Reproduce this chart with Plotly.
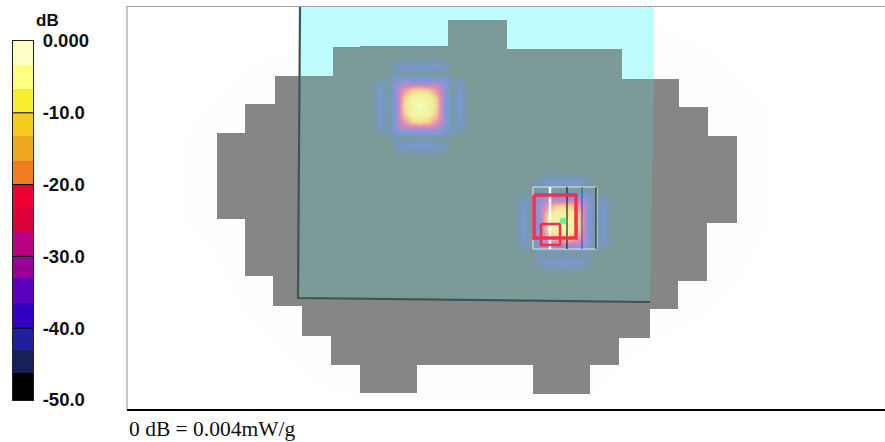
import plotly.graph_objects as go

# Colour legend
band_edges = [-50, -46.3, -43, -40, -36.5, -33, -30, -26.5, -23.3, -20, -16.7, -13.3, -10, -6.7, -3.3, 0]
band_colors = ["#000000", "#182058", "#20209C", "#3400C0", "#5C00BC", "#990099", "#B80080", "#DC0038",
               "#EE0030", "#F07D22", "#F0A522", "#F5CB1F", "#F7EE30", "#FFFF80", "#FFFFC8"]
tick_vals = [0, -10, -20, -30, -40, -50]
tick_text = ["0.000", "-10.0", "-20.0", "-30.0", "-40.0", "-50.0"]

# Phantom outline
sil_x = [217, 245, 245, 275, 275, 333, 333, 448, 448, 507, 507, 622, 622, 679, 679, 708, 708, 737, 737, 707, 707,
         678, 678, 650, 650, 619, 619, 590, 590, 533, 533, 417, 417, 360, 360, 331, 331, 302, 302, 273, 273, 245, 245, 217]
sil_y = [133, 133, 104, 104, 76, 76, 47, 47, 20, 20, 49, 49, 79, 79, 107, 107, 136, 136, 223, 223, 281,
         281, 309, 309, 338, 338, 365, 365, 394, 394, 365, 365, 393, 393, 365, 365, 336, 336, 306, 306, 276, 276, 219, 219]
# Faint halo round the phantom
halo_x = [188, 216, 245, 305, 420, 640, 700, 738, 768, 768, 738, 708, 650, 620, 590, 360, 302, 272, 245, 216, 188]
halo_y = [135, 100, 72, 44, 18, 20, 46, 76, 110, 225, 282, 312, 342, 368, 400, 400, 372, 340, 312, 250, 222]
# Measurement area
area_x = [300, 654, 654, 300]
area_y = [7, 7, 79, 79]
overlap_x = [300, 333, 333, 448, 448, 507, 507, 622, 622, 654, 650, 298]
overlap_y = [76, 76, 47, 47, 20, 20, 49, 49, 79, 79, 302, 298]
edge_x = [300, 298, 650]
edge_y = [7, 298, 302]

# Hot spot level matrix, dB (offset rows/columns around each peak)
spot_offsets = [-56, -48, -40, -32, -24, -16, -8, 0, 8, 16, 24, 32, 40, 48, 56]
spot_db = [
    [-26, -26, -26, -26, -26, -26, -26, -26, -26, -26, -26, -26, -26, -26, -26],
    [-26, -26, -26, -26, -26, -25, -25, -26, -25, -25, -26, -26, -26, -26, -26],
    [-26, -26, -26, -26, -23, -21, -21, -22, -21, -21, -23, -26, -26, -26, -26],
    [-26, -26, -26, -26, -24, -26, -25, -25, -25, -26, -24, -26, -26, -26, -26],
    [-26, -26, -23, -24, -19, -17, -18, -18, -18, -17, -19, -24, -23, -26, -26],
    [-26, -25, -21, -26, -17, -12, -8, -7, -8, -12, -17, -26, -21, -25, -26],
    [-26, -26, -21, -25, -18, -8, -4, -3, -4, -8, -18, -25, -21, -26, -26],
    [-26, -26, -20, -25, -18, -7, -3, 0, -3, -7, -18, -25, -20, -26, -26],
    [-26, -26, -21, -25, -18, -8, -4, -3, -4, -8, -18, -25, -21, -26, -26],
    [-26, -25, -21, -26, -17, -12, -8, -7, -8, -12, -17, -26, -21, -25, -26],
    [-26, -26, -23, -24, -19, -17, -18, -18, -18, -17, -19, -24, -23, -26, -26],
    [-26, -26, -26, -26, -24, -26, -25, -25, -25, -26, -24, -26, -26, -26, -26],
    [-26, -26, -26, -26, -23, -21, -21, -20, -21, -21, -23, -26, -26, -26, -26],
    [-26, -26, -26, -26, -26, -25, -25, -25, -25, -25, -26, -26, -26, -26, -26],
    [-26, -26, -26, -26, -26, -26, -26, -26, -26, -26, -26, -26, -26, -26, -26],
]
spot_centres = [(420, 106), (563, 222)]
spot_scale = [[0, "#7B9A98"], [0.12, "#7699BC"], [0.23, "#7C98D4"], [0.35, "#A090D0"], [0.48, "#D888B8"],
              [0.62, "#F0B098"], [0.78, "#F2EC96"], [1, "#F2FFB8"]]

# Zoom-scan frame markings
frame_x = [533, 597, 597, 533, 533]
frame_y = [187, 187, 249, 249, 187]
red_x = [534, 576, 576, 534, 534]
red_y = [195, 195, 238, 238, 195]
small_x = [541, 560, 560, 541, 541]
small_y = [224, 224, 245, 245, 224]
markers = [(550, "#FFFFFF", 2.5), (567, "#301820", 1.2), (582, "#3A4898", 1), (596, "#101030", 1)]
peak_x, peak_y = [563], [221]

fig = go.Figure()
def poly(xs, ys, color, axes=("x", "y")):
    fig.add_trace(go.Scatter(x=xs, y=ys, fill="toself", fillcolor=color, mode="lines", line=dict(width=0),
                             hoverinfo="skip", showlegend=False, xaxis=axes[0], yaxis=axes[1]))
def line(xs, ys, color, width, axes=("x3", "y3")):
    fig.add_trace(go.Scatter(x=xs, y=ys, mode="lines", line=dict(color=color, width=width),
                             hoverinfo="skip", showlegend=False, xaxis=axes[0], yaxis=axes[1]))

poly(halo_x, halo_y, "#FCFEFE")
poly(area_x, area_y, "#BFFCFD")
poly(sil_x, sil_y, "#848785")
poly(overlap_x, overlap_y, "#7B9A98")

for cx, cy in spot_centres:
    fig.add_trace(go.Heatmap(x=[cx + o for o in spot_offsets], y=[cy + o for o in spot_offsets], z=spot_db,
                             zmin=-26, zmax=0, colorscale=spot_scale, zsmooth="best", showscale=False,
                             hoverinfo="skip", xaxis="x3", yaxis="y3"))

line(edge_x, edge_y, "#3F5554", 2.2)
line([127, 127, 885], [410, 6.5, 6.5], "#A0A0A0", 1.2)
line([127, 885], [410, 410], "#000000", 2)
line(frame_x, frame_y, "#E8E8D0", 1)
for mx, mc, mw in markers:
    line([mx, mx], [187, 249], mc, mw)
line(red_x, red_y, "#F03050", 3.5)
line(small_x, small_y, "#F03050", 2.5)
fig.add_trace(go.Scatter(x=peak_x, y=peak_y, mode="markers", marker=dict(color="#70F090", size=7),
                         hoverinfo="skip", showlegend=False, xaxis="x3", yaxis="y3"))

n = len(band_colors)
fig.add_trace(go.Heatmap(x=[0, 1], y=band_edges, z=[[i] for i in range(n)], zmin=0, zmax=n - 1,
                         colorscale=[[i / (n - 1), c] for i, c in enumerate(band_colors)], showscale=False,
                         hoverinfo="skip", xaxis="x2", yaxis="y2"))
for t in tick_vals[1:-1]:
    line([0, 1], [t, t], "#000000", 1, axes=("x2", "y2"))

W, H = 885, 442
hidden = dict(visible=False, fixedrange=True, automargin=False)
fig.update_layout(
    template="none",
    width=W, height=H, margin=dict(l=0, r=0, t=0, b=0, pad=0), paper_bgcolor="white", plot_bgcolor="white",
    xaxis=dict(domain=[0, 1], range=[0, W], **hidden),
    yaxis=dict(domain=[0, 1], range=[H, 0], **hidden),
    xaxis3=dict(domain=[0, 1], range=[0, W], overlaying="x", anchor="y3", **hidden),
    yaxis3=dict(domain=[0, 1], range=[H, 0], overlaying="y", anchor="x3", **hidden),
    xaxis2=dict(domain=[13 / W, 33 / W], range=[0, 1], anchor="y2", showticklabels=False, ticks="",
                showgrid=False, zeroline=False, showline=True, linecolor="#202020", linewidth=1, mirror=True,
                fixedrange=True, automargin=False),
    yaxis2=dict(domain=[1 - 400 / H, 1 - 41 / H], range=[-50, 0], anchor="x2", side="right",
                tickvals=tick_vals, ticktext=["<b>%s</b>" % t for t in tick_text], ticks="outside", ticklen=5,
                tickcolor="white", tickfont=dict(family="Liberation Sans", size=18.5, color="#101010"),
                showgrid=False, zeroline=False, showline=True, linecolor="#202020", linewidth=1, mirror=True,
                fixedrange=True, automargin=False),
    annotations=[
        dict(text="<b>dB</b>", x=47, y=20, xref="x", yref="y", showarrow=False,
             font=dict(family="Liberation Sans", size=17, color="#101010")),
        dict(text="0 dB = 0.004mW/g", x=127, y=429, xref="x", yref="y", xanchor="left", showarrow=False,
             font=dict(family="Liberation Serif", size=21.5, color="#101010")),
    ],
)
fig.write_html("out.html", config=dict(displayModeBar=False),
               post_script="document.body.style.margin='0';document.documentElement.style.overflow='hidden';")
